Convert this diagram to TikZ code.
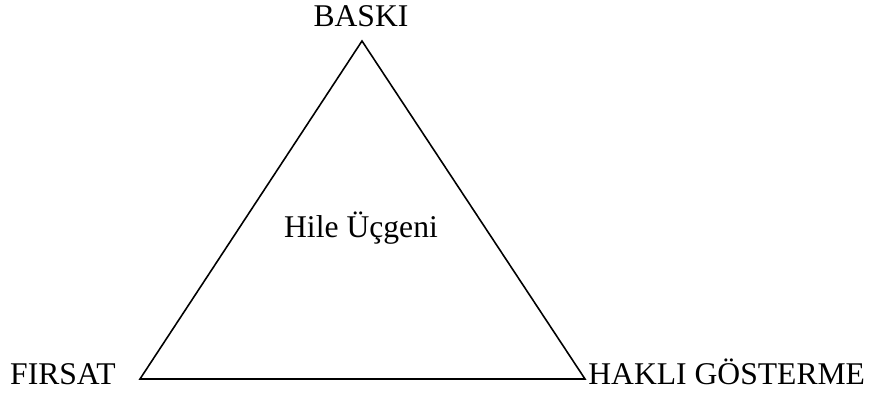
\documentclass[tikz,border=0pt]{standalone}
\usepackage{fontspec}
\setmainfont{Liberation Serif}
\usetikzlibrary{positioning}

\begin{document}
\begin{tikzpicture}[x=0.02cm,y=-0.02cm,
    label/.style={inner sep=0pt,font=\fontsize{18}{21}\selectfont}]
  \useasboundingbox (0,0) rectangle (870,394);
  % köşeler
  \coordinate (apex) at (362,41);
  \coordinate (left) at (140,379);
  \coordinate (right) at (585,379);
  % üçgen
  \draw[line width=0.9pt,line join=miter] (left) -- (apex) -- (right) -- cycle;
  % etiketler
  \node[label,anchor=base] (baski) at (361,27) {BASKI};
  \node[label,anchor=base east] (firsat) at (116,385) {FIRSAT};
  \node[label,anchor=base west] (hakli) at (588,385) {HAKLI GÖSTERME};
  \node[label,anchor=base] (hile) at (361,238) {Hile Üçgeni};
\end{tikzpicture}
\end{document}
